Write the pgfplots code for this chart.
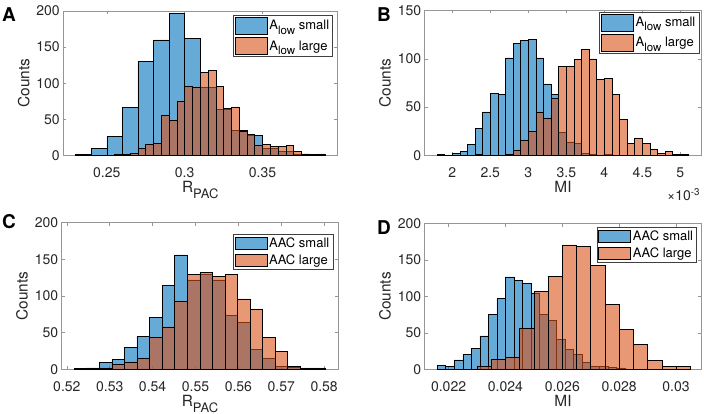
\documentclass[border=0pt]{standalone}
\usepackage{fontspec}
\setmainfont{TeX Gyre Heros}
\usepackage{pgfplots}
\pgfplotsset{compat=1.18}

\definecolor{mblue}{rgb}{0,0.447,0.741}
\definecolor{morange}{rgb}{0.85,0.325,0.098}
\definecolor{axgray}{RGB}{150,150,150}
\definecolor{txt}{RGB}{38,38,38}

\newcommand{\tickfont}{\fontsize{14}{16}\selectfont}
\newcommand{\labfont}{\fontsize{15.4}{17}\selectfont}
\newcommand{\legfont}{\fontsize{13}{14}\selectfont}
\newcommand{\panfont}{\bfseries\fontsize{19}{20}\selectfont}
% MATLAB-like subscripts (big and well lowered)
\newcommand{\pac}{R\raisebox{-6pt}{\fontsize{13}{14}\selectfont PAC}}
\newcommand{\alow}{A\raisebox{-4.5pt}{\fontsize{11.5}{12}\selectfont low}}

\pgfplotsset{
  hist/.style={
    scale only axis, ymin=0, clip=false,
    axis line style={axgray, line width=0.5pt},
    major tick style={axgray, line width=0.5pt},
    tick align=inside, major tick length=3pt,
    ticklabel style={font=\tickfont, color=txt},
    xticklabel style={yshift=-9pt},
    label style={font=\labfont, color=txt},
    xlabel style={at={(axis description cs:0.5,0)}, anchor=north, inner sep=0pt, yshift=-25.5pt},
    ytick={0,50,100,150,200},
    yticklabels={0,50,100,150,200},
    ylabel={Counts},
    legend cell align=left,
    legend style={font=\legfont, draw=black!75, line width=0.5pt, fill=white,
      anchor=north east, inner sep=1.5pt, row sep=2pt,
      nodes={inner sep=2pt, text=black}},
  },
  hb/.style={ybar interval, forget plot, fill=mblue, fill opacity=0.6, draw=black, line width=0.5pt},
  ho/.style={ybar interval, forget plot, fill=morange, fill opacity=0.6, draw=black, line width=0.5pt},
}
% legend patches
\newcommand{\legbox}[2]{\addlegendimage{legend image code/.code={%
  \draw[fill=#1, fill opacity=0.6, draw=black, line width=0.5pt] (0pt,-#2) rectangle (32pt,#2);}}}

\begin{document}
\begin{tikzpicture}
\useasboundingbox (0,0) rectangle (704pt,414pt);

% --- A ---
\begin{axis}[hist, at={(63.3pt,258.7pt)}, anchor=south west,
  width=274pt, height=144.3pt,
  xmin=0.2221, xmax=0.398, ymax=200,
  xtick={0.25,0.3,0.35}, xticklabels={0.25,0.3,0.35},
  xlabel={\pac},
  legend style={at={(0.984,0.972)}, row sep=3pt},
]
\addplot[hb] coordinates {
  (0.23,1) (0.24,10) (0.25,26) (0.26,66) (0.27,130) (0.28,160) (0.29,197)
  (0.30,162) (0.31,94) (0.32,64) (0.33,35) (0.34,28) (0.35,10) (0.36,5)
  (0.37,2) (0.38,1) (0.39,1)
};
\addplot[ho] coordinates {
  (0.255,1) (0.26,1) (0.265,3) (0.27,10) (0.275,15) (0.28,17) (0.285,55)
  (0.29,48) (0.295,75) (0.30,96) (0.305,95) (0.31,115) (0.315,118)
  (0.32,96) (0.325,65) (0.33,67) (0.335,33) (0.34,29) (0.345,14)
  (0.35,15) (0.355,12) (0.36,12) (0.365,14) (0.37,5) (0.375,2)
  (0.38,1) (0.385,2) (0.39,2)
};
\legbox{mblue}{8.5pt}
\addlegendentry{\alow\ small}
\legbox{morange}{8.5pt}
\addlegendentry{\alow\ large}
\node[font=\panfont, anchor=north west, inner sep=0pt, xshift=-61.3pt, yshift=4pt]
  at (rel axis cs:0,1) {A};
\end{axis}

% --- B ---
\begin{axis}[hist, at={(424.7pt,258.7pt)}, anchor=south west,
  width=276.6pt, height=144.8pt,
  xmin=1.637, xmax=5.276, ymax=150,
  ytick={0,50,100,150}, yticklabels={0,50,100,150},
  xtick={2,2.5,3,3.5,4,4.5,5}, xticklabels={2,2.5,3,3.5,4,4.5,5},
  xlabel={MI},
  legend style={at={(0.992,0.99)}, row sep=3pt},
]
\addplot[hb] coordinates {
  (1.8,1) (1.9,0) (2.0,2) (2.1,4) (2.2,11) (2.3,28) (2.4,45) (2.5,64)
  (2.6,63) (2.7,101) (2.8,116) (2.9,119) (3.0,120) (3.1,101) (3.2,74)
  (3.3,63) (3.4,24) (3.5,14) (3.6,12) (3.7,2) (3.8,1) (3.9,0) (4.0,1) (4.1,1)
};
\addplot[ho] coordinates {
  (2.3,1) (2.4,0) (2.5,0) (2.6,0) (2.7,1) (2.8,5) (2.9,16) (3.0,25)
  (3.1,45) (3.2,38) (3.3,59) (3.4,92) (3.5,92) (3.6,99) (3.7,110)
  (3.8,100) (3.9,79) (4.0,80) (4.1,63) (4.2,37) (4.3,12) (4.4,18)
  (4.5,12) (4.6,6) (4.7,2) (4.8,4) (4.9,1) (5.0,1) (5.1,1)
};
\legbox{mblue}{8.5pt}
\addlegendentry{\alow\ small}
\legbox{morange}{8.5pt}
\addlegendentry{\alow\ large}
\node[font=\panfont, anchor=north west, inner sep=0pt, xshift=-47.7pt, yshift=3.5pt]
  at (rel axis cs:0,1) {B};
\node[font=\tickfont, text=txt, anchor=north east, inner sep=0pt, xshift=-1pt, yshift=-33pt]
  at (rel axis cs:1,0) {×10\textsuperscript{-3}};
\end{axis}

% --- C ---
\begin{axis}[hist, at={(61.7pt,44.7pt)}, anchor=south west,
  width=276.6pt, height=146.6pt,
  xmin=0.5188, xmax=0.5833, ymax=200,
  xtick={0.52,0.53,0.54,0.55,0.56,0.57,0.58},
  xticklabels={0.52,0.53,0.54,0.55,0.56,0.57,0.58},
  xlabel={\pac},
  legend style={at={(0.981,0.923)}},
]
\addplot[hb] coordinates {
  (0.5217,1) (0.52463,2) (0.52756,9) (0.53049,14) (0.53342,30) (0.53635,45)
  (0.53928,71) (0.54221,115) (0.54514,156) (0.54807,122) (0.55100,130)
  (0.55393,122) (0.55686,74) (0.55979,64) (0.56272,27) (0.56565,15)
  (0.56858,4) (0.57151,3) (0.57444,0) (0.57737,0) (0.5803,0)
};
\addplot[ho] coordinates {
  (0.5217,0) (0.52463,0) (0.52756,2) (0.53049,7) (0.53342,10) (0.53635,15)
  (0.53928,44) (0.54221,58) (0.54514,93) (0.54807,129) (0.55100,132)
  (0.55393,127) (0.55686,130) (0.55979,96) (0.56272,82) (0.56565,44)
  (0.56858,24) (0.57151,4) (0.57444,2) (0.57737,2) (0.5803,2)
};
\legbox{mblue}{6pt}
\addlegendentry{AAC small}
\legbox{morange}{6pt}
\addlegendentry{AAC large}
\node[font=\panfont, anchor=north west, inner sep=0pt, xshift=-59.7pt, yshift=8.7pt]
  at (rel axis cs:0,1) {C};
\end{axis}

% --- D ---
\begin{axis}[hist, at={(424.7pt,44.7pt)}, anchor=south west,
  width=276.6pt, height=145.6pt,
  xmin=0.02116, xmax=0.03089, ymax=200,
  scaled x ticks=false,
  xtick={0.022,0.024,0.026,0.028,0.03},
  xticklabels={0.022,0.024,0.026,0.028,0.03},
  xlabel={MI},
  legend style={at={(0.984,0.977)}},
]
\addplot[hb] coordinates {
  (0.0216,5) (0.0219,4) (0.0222,13) (0.0225,20) (0.0228,29) (0.0231,46)
  (0.0234,75) (0.0237,97) (0.0240,127) (0.0243,122) (0.0246,118)
  (0.0249,105) (0.0252,75) (0.0255,67) (0.0258,41) (0.0261,27)
  (0.0264,21) (0.0267,9) (0.0270,4) (0.0273,4) (0.0276,3) (0.0279,2)
  (0.0282,2)
};
\addplot[ho] coordinates {
  (0.0230,4) (0.0235,14) (0.0240,16) (0.0245,56) (0.0250,107) (0.0255,128)
  (0.0260,171) (0.0265,169) (0.0270,143) (0.0275,89) (0.0280,55)
  (0.0285,34) (0.0290,12) (0.0295,4) (0.0300,4) (0.0305,4)
};
\legbox{mblue}{6pt}
\addlegendentry{AAC small}
\legbox{morange}{6pt}
\addlegendentry{AAC large}
\node[font=\panfont, anchor=north west, inner sep=0pt, xshift=-47.7pt, yshift=3.7pt]
  at (rel axis cs:0,1) {D};
\end{axis}
\end{tikzpicture}
\end{document}
